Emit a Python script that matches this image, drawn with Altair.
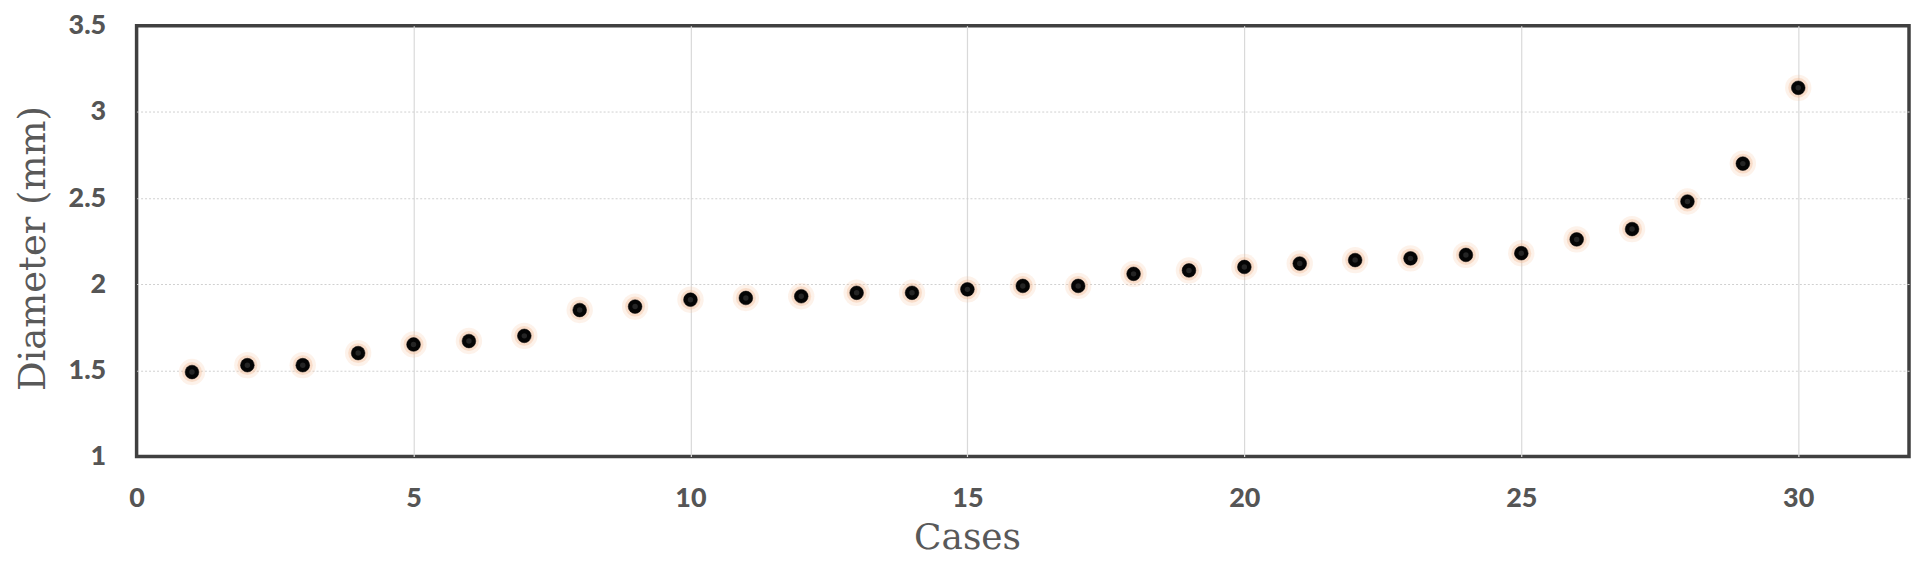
import altair as alt
import pandas as pd

cases = list(range(1, 31))
diameter = [1.49, 1.53, 1.53, 1.60, 1.65, 1.67, 1.70, 1.85, 1.87, 1.91,
            1.92, 1.93, 1.95, 1.95, 1.97, 1.99, 1.99, 2.06, 2.08, 2.10,
            2.12, 2.14, 2.15, 2.17, 2.18, 2.26, 2.32, 2.48, 2.70, 3.14]
x_ticks = [0, 5, 10, 15, 20, 25, 30]
y_ticks = [1, 1.5, 2, 2.5, 3, 3.5]

df = pd.DataFrame({"Cases": cases, "Diameter": diameter})

x_enc = alt.X("Cases:Q",
              scale=alt.Scale(domain=[0, 32], nice=False, zero=False),
              axis=alt.Axis(values=x_ticks, title="Cases", grid=True,
                            gridColor="#d9d9d9", gridWidth=1.2,
                            gridOpacity={"expr": "datum.value == 0 ? 0 : 1"},
                            domain=False, ticks=False,
                            labelFont="Lato", labelFontWeight=900,
                            labelFontSize=27, labelColor="#555555",
                            labelPadding=29, labelFlush=False,
                            titleFont="DejaVu Serif", titleFontWeight="normal",
                            titleFontSize=36, titleColor="#595959",
                            titleX=833, titleY=92, titleBaseline="alphabetic",
                            titleAnchor="start", titleAlign="center"))
y_enc = alt.Y("Diameter:Q",
              scale=alt.Scale(domain=[1, 3.5], nice=False, zero=False),
              axis=alt.Axis(values=y_ticks, title="Diameter (mm)", grid=True,
                            format="~g",
                            gridColor="#d0d0d0", gridDash=[2, 2], gridWidth=1,
                            gridOpacity={"expr": "(datum.value == 1 || datum.value == 3.5) ? 0 : 1"},
                            domain=False, ticks=False,
                            labelFont="Lato", labelFontWeight=900,
                            labelFontSize=27, labelColor="#555555",
                            labelPadding=31, labelFlush=False,
                            titleFont="DejaVu Serif", titleFontWeight="normal",
                            titleFontSize=37, titleColor="#595959",
                            titleAngle=-90, titleX=-92, titleY=223,
                            titleBaseline="alphabetic", titleAlign="center",
                            titleAnchor="start"))

base = alt.Chart(df)

halo1 = base.mark_circle(color="#f4c4a0", opacity=0.22, size=700).encode(x=x_enc, y=y_enc)
halo2 = base.mark_circle(color="#f0b890", opacity=0.35, size=400).encode(x="Cases:Q", y="Diameter:Q")
dots = base.mark_circle(color="#050505", opacity=1, size=190,
                        stroke="#000000", strokeWidth=0.5).encode(x="Cases:Q", y="Diameter:Q")
shine = base.mark_circle(color="#3a3a3a", opacity=0.6, size=30).encode(x="Cases:Q", y="Diameter:Q")

chart = alt.layer(halo1, halo2, dots, shine).properties(
    width=1778, height=432,
    background="white",
    autosize=alt.AutoSizeParams(type="none"),
    padding={"left": 129, "top": 17, "right": 3, "bottom": 100},
).configure_view(stroke="#404040", strokeWidth=3.5)

chart.save("out.html", embed_options={"renderer": "svg", "actions": False})
